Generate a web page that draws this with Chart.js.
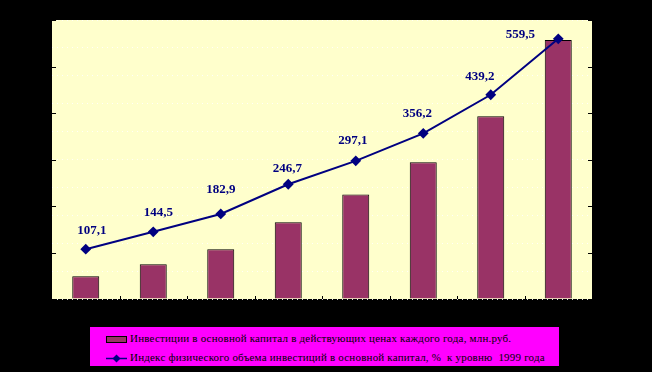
<!DOCTYPE html>
<html>
<head>
<meta charset="utf-8">
<script src="https://cdn.jsdelivr.net/npm/chart.js@4/dist/chart.umd.min.js"></script>
<style>
  html, body { margin: 0; padding: 0; background: #000; }
  #wrap { position: relative; width: 652px; height: 372px; }
  #legend {
    position: absolute; left: 90px; top: 327px; width: 469px; height: 39px;
    background: #FF00FF; font-family: 'Liberation Serif', serif; font-size: 11px; color: #000;
    letter-spacing: 0.2px;
  }
  .row { position: absolute; left: 16px; height: 14px; line-height: 14px; white-space: nowrap; }
  .swatch { display: inline-block; width: 19px; height: 5px; background: #993366; border: 1px solid #000; vertical-align: middle; margin-right: 3px; }
  .lineMark { display: inline-block; vertical-align: middle; margin-right: 3px; }
</style>
</head>
<body>
<div id="wrap">
  <canvas id="chart" width="652" height="372"></canvas>
  <div id="legend">
    <div class="row" style="top:4px"><span class="swatch"></span>Инвестиции в основной капитал в действующих ценах каждого года, млн.руб.</div>
    <div class="row" style="top:23px"><svg class="lineMark" width="21" height="9"><line x1="0" y1="4.5" x2="21" y2="4.5" stroke="#000080" stroke-width="1.5"/><polygon points="10.5,0.5 14.5,4.5 10.5,8.5 6.5,4.5" fill="#000080"/></svg>Индекс физического объема инвестиций в основной капитал, %&nbsp; к уровню&nbsp; 1999 года</div>
  </div>
</div>
<script>
document.addEventListener('DOMContentLoaded', function() {
  // данные
  const years = ['2000', '2001', '2002', '2003', '2004', '2005', '2006', '2007'];
  const investments = [49, 75, 107, 165, 225, 294, 393, 557];
  const volumeIndex = [107.1, 144.5, 182.9, 246.7, 297.1, 356.2, 439.2, 559.5];
  // смещения подписей над точками
  const labelShiftX = [6, 5, 0, -1, -3, -6, -11, -38];
  const labelShiftY = [-19, -19, -24, -16, -20, -20, -18, -4];

  // фон области построения
  const plotBackground = {
    id: 'plotBackground',
    beforeDraw(chart) {
      const a = chart.chartArea;
      const ctx = chart.ctx;
      ctx.save();
      ctx.fillStyle = '#FFFFCC';
      ctx.fillRect(a.left, a.top, a.right - a.left, a.bottom - a.top);
      ctx.restore();
    }
  };

  // внутренние засечки осей и подписи значений
  const ticksAndLabels = {
    id: 'ticksAndLabels',
    afterDatasetsDraw(chart) {
      const a = chart.chartArea;
      const ctx = chart.ctx;
      const yL = chart.scales.y;
      const yR = chart.scales.y1;
      const x = chart.scales.x;
      ctx.save();
      ctx.strokeStyle = '#000';
      ctx.lineWidth = 1;
      ctx.beginPath();
      yR.ticks.forEach(t => {
        const pl = Math.round(yL.getPixelForValue(t.value)) + 0.5;
        ctx.moveTo(a.left, pl); ctx.lineTo(a.left + 4, pl);
        const pr = Math.round(yR.getPixelForValue(t.value)) + 0.5;
        ctx.moveTo(a.right - 4, pr); ctx.lineTo(a.right, pr);
      });
      for (let i = 1; i < years.length; i++) {
        const px = Math.round((x.getPixelForValue(i - 1) + x.getPixelForValue(i)) / 2) + 0.5;
        ctx.moveTo(px, a.bottom - 3); ctx.lineTo(px, a.bottom);
      }
      ctx.stroke();

      const meta = chart.getDatasetMeta(1);
      ctx.fillStyle = '#000080';
      ctx.font = 'bold 13px "Liberation Serif"';
      ctx.textAlign = 'center';
      ctx.textBaseline = 'middle';
      meta.data.forEach((pt, i) => {
        const txt = volumeIndex[i].toFixed(1).replace('.', ',');
        ctx.fillText(txt, pt.x + labelShiftX[i], pt.y + labelShiftY[i]);
      });
      ctx.restore();
    }
  };

  new Chart(document.getElementById('chart').getContext('2d'), {
    data: {
      labels: years,
      datasets: [
        {
          type: 'bar',
          label: 'Инвестиции в основной капитал в действующих ценах каждого года, млн.руб.',
          data: investments,
          backgroundColor: '#993366',
          borderColor: '#000',
          borderWidth: 1,
          barPercentage: 0.4,
          categoryPercentage: 1,
          yAxisID: 'y',
          order: 2
        },
        {
          type: 'line',
          label: 'Индекс физического объема инвестиций в основной капитал, % к уровню 1999 года',
          data: volumeIndex,
          borderColor: '#000080',
          backgroundColor: '#000080',
          borderWidth: 2,
          pointStyle: 'rectRot',
          pointRadius: 4,
          tension: 0,
          yAxisID: 'y1',
          order: 1
        }
      ]
    },
    options: {
      responsive: false,
      animation: false,
      layout: { padding: { top: 20, bottom: 0, left: 0, right: 0 } },
      plugins: {
        legend: { display: false },
        tooltip: { enabled: false }
      },
      scales: {
        x: {
          offset: true,
          grid: { display: false },
          border: { display: false },
          ticks: { color: '#000', font: { size: 11 } },
          afterFit(scale) { scale.height = 73; }
        },
        y: {
          position: 'left',
          min: 0, max: 600,
          ticks: { stepSize: 30, color: '#000', font: { size: 11 } },
          grid: { color: 'rgba(255,255,255,0.9)', drawTicks: false },
          border: { display: false, dash: [1, 4] },
          afterFit(scale) { scale.width = 52; }
        },
        y1: {
          position: 'right',
          min: 0, max: 600,
          ticks: { stepSize: 100, color: '#000', font: { size: 11 } },
          grid: { display: false },
          border: { display: false },
          afterFit(scale) { scale.width = 60; }
        }
      }
    },
    plugins: [plotBackground, ticksAndLabels]
  });
});
</script>
</body>
</html>
